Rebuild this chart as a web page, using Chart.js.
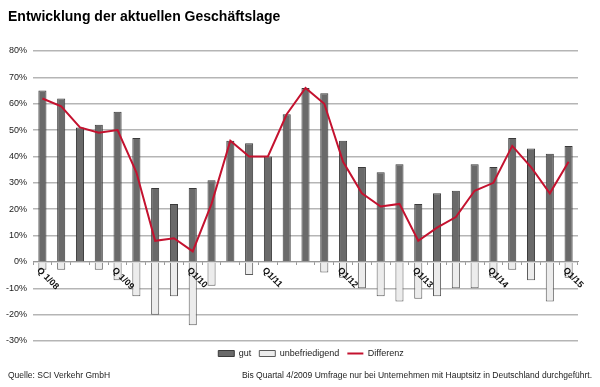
<!DOCTYPE html>
<html>
<head>
<meta charset="utf-8">
<script src="https://cdn.jsdelivr.net/npm/chart.js@4"></script>
<style>
  html, body { margin:0; padding:0; background:#fff; }
  #wrap { width:600px; height:387px; }
</style>
</head>
<body>
<div id="wrap"><canvas id="chart" width="600" height="387"></canvas></div>
<script>
const quarters = ['Q1/08','Q2/08','Q3/08','Q4/08','Q1/09','Q2/09','Q3/09','Q4/09','Q1/10','Q2/10','Q3/10','Q4/10',
  'Q1/11','Q2/11','Q3/11','Q4/11','Q1/12','Q2/12','Q3/12','Q4/12','Q1/13','Q2/13','Q3/13','Q4/13',
  'Q1/14','Q2/14','Q3/14','Q4/14','Q1/15'];
const gut = [65,62,51,52,57,47,28,22,28,31,46,45,40,56,66,64,46,36,34,37,22,26,27,37,36,47,43,41,44];
const unbefriedigend = [-3,-3,0,-3,-7,-13,-20,-13,-24,-9,0,-5,0,0,0,-4,-6,-10,-13,-15,-14,-13,-10,-10,-6,-3,-7,-15,-6];
const differenz = [62,59,51,49,50,34,8,9,4,22,46,40,40,56,66,60,38,26,21,22,8,13,17,27,30,44,36,26,38];
// shown axis labels: index -> text
const axisLabels = {0:'Q 1/08', 4:'Q 1/09', 8:'Q1/10', 12:'Q1/11', 16:'Q1/12', 20:'Q1/13', 24:'Q1/14', 28:'Q1/15'};

const FONT = "'Liberation Sans', Arial, sans-serif";

// title, footer and rotated quarter labels
const decor = {
  id:'decor',
  beforeDraw(chart) {
    // legend sits a bit right of centre in the original
    if (!chart.legend._shifted) { chart.legend.left += 44; chart.legend._shifted = true; }
  },
  afterDraw(chart) {
    const ctx = chart.ctx, xs = chart.scales.x, ys = chart.scales.y;
    ctx.save();
    ctx.fillStyle = '#000';
    ctx.font = 'bold 14px ' + FONT;
    ctx.textAlign = 'left'; ctx.textBaseline = 'alphabetic';
    ctx.fillText('Entwicklung der aktuellen Geschäftslage', 8, 21);

    ctx.font = '8.5px ' + FONT;
    ctx.fillStyle = '#222';
    ctx.fillText('Quelle: SCI Verkehr GmbH', 8, 378);
    ctx.textAlign = 'right';
    ctx.fillText('Bis Quartal 4/2009 Umfrage nur bei Unternehmen mit Hauptsitz in Deutschland durchgeführt.', 592, 378);

    const y0 = ys.getPixelForValue(0);
    ctx.font = 'bold 9px ' + FONT;
    ctx.fillStyle = '#111';
    ctx.textAlign = 'left'; ctx.textBaseline = 'top';
    Object.keys(axisLabels).forEach(k => {
      const x = xs.getPixelForValue(+k);
      ctx.save();
      ctx.translate(x - 1, y0 + 4);
      ctx.rotate(Math.PI / 4);
      ctx.fillText(axisLabels[k], 0, 0);
      ctx.restore();
    });
    ctx.restore();
  }
};

new Chart(document.getElementById('chart').getContext('2d'), {
  type:'bar',
  data:{ labels:quarters, datasets:[
    { label:'gut', data:gut, backgroundColor:'#6a6a6a', borderColor:'#3a3a3a', borderWidth:1, grouped:false, barPercentage:0.43, categoryPercentage:1, order:2 },
    { label:'unbefriedigend', data:unbefriedigend, backgroundColor:'#ececec', borderColor:'#5a5a5a', borderWidth:1, grouped:false, barPercentage:0.43, categoryPercentage:1, order:3 },
    { type:'line', label:'Differenz', data:differenz, borderColor:'#c4122f', backgroundColor:'#c4122f', borderWidth:2, pointRadius:0, tension:0, fill:false, order:1 }
  ]},
  options:{
    responsive:false, animation:false,
    layout:{ padding:{ top:51, right:22, left:0, bottom:19 } },
    plugins:{
      tooltip:{ enabled:false },
      legend:{
        position:'bottom',
        labels:{
          color:'#222', font:{ size:9, family:FONT }, usePointStyle:true, pointStyleWidth:16, boxHeight:6, padding:8,
          generateLabels: chart => Chart.defaults.plugins.legend.labels.generateLabels(chart)
            .sort((a,b) => a.datasetIndex - b.datasetIndex)
            .map(l => {
              const ds = chart.data.datasets[l.datasetIndex];
              if (ds.type === 'line') { l.pointStyle = 'line'; l.lineWidth = 2; l.strokeStyle = ds.borderColor; }
              else { l.pointStyle = 'rect'; l.lineWidth = 1; }
              return l;
            })
        }
      }
    },
    scales:{
      x:{
        position:{ y:0 },
        ticks:{ display:false, autoSkip:false },
        grid:{ drawOnChartArea:false, drawTicks:true, tickLength:3, color:'#999', offset:true },
        border:{ display:true, color:'#999', width:1 }
      },
      y:{
        min:-30, max:80,
        ticks:{ stepSize:10, color:'#222', font:{ size:9, family:FONT }, padding:6, callback:v => v + '%' },
        grid:{ color:'#b5b5b5', lineWidth:1.5, drawTicks:false },
        border:{ display:false }
      }
    }
  },
  plugins:[decor]
});
</script>
</body>
</html>
